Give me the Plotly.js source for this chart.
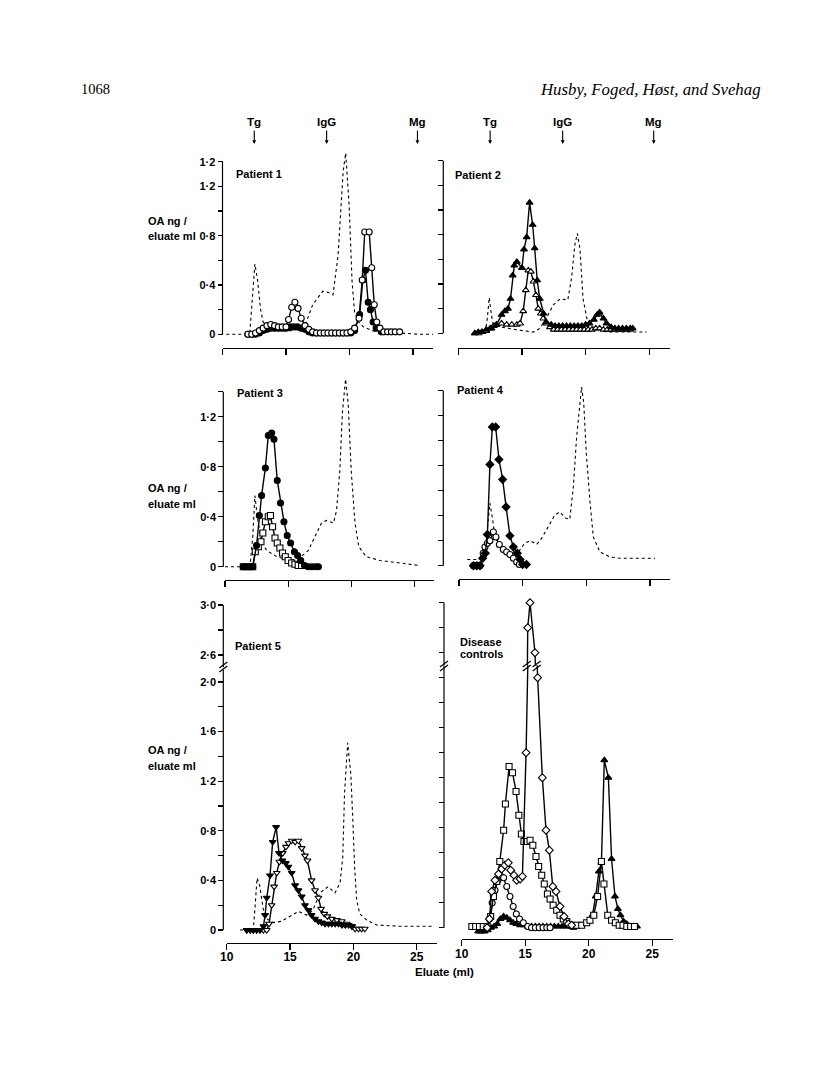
<!DOCTYPE html>
<html><head><meta charset="utf-8">
<script src="https://cdn.plot.ly/plotly-3.0.1.min.js"></script>
<style>html,body{margin:0;padding:0;background:#fff}#chart{width:816px;height:1075px}</style>
</head><body><div id="chart"></div>
<script>
// ---------------- DATA ----------------
const markerNames = ['Tg', 'IgG', 'Mg'];
const markerPos = [12.5, 18.2, 25.35];
const xTicks = [10, 15, 20, 25];
const xTickText = ['10', '15', '20', '25'];

// Patient 1
const p1DashX = [10.3, 11.0, 11.8, 12.15, 12.35, 12.55, 12.75, 13.0, 13.2, 13.7, 14.5, 15.5, 16.2, 16.6, 17.1, 17.5, 17.9, 18.3, 18.7, 19.1, 19.35, 19.5, 19.7, 19.97, 20.2, 20.4, 20.7, 21.1, 21.8, 22.65, 24.0, 25.5, 26.6];
const p1DashY = [0, 0, 0, 0.01, 0.3, 0.57, 0.45, 0.2, 0.1, 0.05, 0.03, 0.03, 0.05, 0.1, 0.24, 0.3, 0.35, 0.34, 0.32, 0.64, 1.05, 1.32, 1.47, 1.05, 0.43, 0.18, 0.1, 0.06, 0.03, 0.01, 0.01, 0, 0];
const p1OpenX = [12.0, 12.3, 12.6, 12.9, 13.2, 13.5, 13.8, 14.1, 14.4, 14.7, 15.0, 15.2, 15.45, 15.7, 15.95, 16.2, 16.5, 16.8, 17.1, 17.4, 17.7, 18.0, 18.3, 18.6, 18.9, 19.2, 19.5, 19.8, 20.1, 20.4, 20.75, 21.0, 21.2, 21.55, 21.75, 21.95, 22.15, 22.4, 22.7, 23.0, 23.3, 23.6, 23.95];
const p1OpenY = [0, 0, 0.01, 0.03, 0.05, 0.07, 0.08, 0.07, 0.06, 0.06, 0.06, 0.12, 0.22, 0.26, 0.21, 0.13, 0.07, 0.04, 0.02, 0.01, 0.01, 0.01, 0.01, 0.01, 0.01, 0.01, 0.01, 0.01, 0.02, 0.05, 0.13, 0.44, 0.83, 0.83, 0.54, 0.24, 0.1, 0.05, 0.02, 0.02, 0.02, 0.02, 0.02];
const p1FillX = [12.0, 12.3, 12.6, 12.9, 13.2, 13.5, 13.8, 14.1, 14.4, 14.7, 15.0, 15.3, 15.6, 15.9, 16.2, 16.5, 16.8, 17.1, 17.4, 17.7, 18.0, 18.3, 18.6, 18.9, 19.2, 19.5, 19.8, 20.1, 20.4, 20.8, 21.05, 21.26, 21.47, 21.65, 21.86, 22.1, 22.5];
const p1FillY = [0, 0, 0, 0.01, 0.03, 0.04, 0.05, 0.05, 0.05, 0.05, 0.05, 0.06, 0.06, 0.06, 0.05, 0.04, 0.02, 0.01, 0.01, 0.01, 0.01, 0.01, 0.01, 0.01, 0.01, 0.01, 0.01, 0.01, 0.03, 0.16, 0.44, 0.52, 0.26, 0.2, 0.1, 0.05, 0.02];

// Patient 2
const p2DashX = [11.2, 11.8, 12.1, 12.28, 12.43, 12.6, 12.75, 13.0, 13.4, 14.5, 15.9, 16.4, 16.9, 17.46, 18.0, 18.6, 18.9, 19.16, 19.35, 19.55, 19.8, 20.1, 20.6, 21.65, 23.0, 24.8];
const p2DashY = [0, 0, 0, 0.12, 0.29, 0.15, 0.07, 0.06, 0.05, 0.03, 0.01, 0.04, 0.12, 0.23, 0.28, 0.27, 0.45, 0.72, 0.81, 0.69, 0.28, 0.12, 0.05, 0.01, 0.01, 0.01];
const p2FillX = [11.3, 11.57, 11.83, 12.2, 12.6, 13.0, 13.4, 13.66, 13.9, 14.1, 14.27, 14.4, 14.6, 15.0, 15.16, 15.37, 15.6, 15.84, 16.0, 16.2, 16.4, 16.7, 16.9, 17.3, 17.6, 17.9, 18.2, 18.5, 18.8, 19.1, 19.4, 19.7, 20.0, 20.3, 20.65, 20.9, 21.1, 21.4, 21.65, 22.0, 22.3, 22.6, 22.9, 23.2, 23.5, 23.7];
const p2FillY = [0, 0.01, 0.01, 0.03, 0.04, 0.07, 0.15, 0.18, 0.2, 0.28, 0.47, 0.55, 0.58, 0.53, 0.68, 0.78, 1.06, 0.88, 0.69, 0.43, 0.28, 0.16, 0.09, 0.07, 0.06, 0.06, 0.06, 0.06, 0.06, 0.06, 0.06, 0.06, 0.07, 0.08, 0.11, 0.15, 0.17, 0.12, 0.08, 0.05, 0.04, 0.04, 0.04, 0.04, 0.04, 0.04];
const p2OpenX = [11.3, 11.6, 11.9, 12.2, 12.5, 12.8, 13.0, 13.4, 13.8, 14.2, 14.6, 14.85, 15.1, 15.3, 15.5, 15.7, 15.9, 16.1, 16.28, 16.47, 16.68, 16.94, 17.2, 17.5, 17.8, 18.1, 18.4, 18.7, 19.0, 19.3, 19.6, 19.9, 20.2, 20.5, 20.8, 21.1, 21.4, 21.7, 22.0, 22.3, 22.6, 22.9, 23.2, 23.5];
const p2OpenY = [0, 0, 0.01, 0.02, 0.04, 0.06, 0.07, 0.08, 0.07, 0.07, 0.07, 0.08, 0.18, 0.35, 0.51, 0.5, 0.42, 0.31, 0.2, 0.16, 0.12, 0.08, 0.05, 0.03, 0.03, 0.03, 0.03, 0.03, 0.03, 0.03, 0.03, 0.03, 0.03, 0.03, 0.04, 0.04, 0.03, 0.03, 0.03, 0.03, 0.03, 0.03, 0.03, 0.03];

// Patient 3
const p3DashX = [10.0, 11.0, 11.98, 12.2, 12.37, 12.56, 12.9, 13.3, 14.1, 15.15, 15.9, 16.6, 17.1, 17.65, 18.05, 18.6, 18.84, 19.1, 19.3, 19.55, 19.76, 20.0, 20.3, 20.6, 21.2, 22.27, 23.85, 25.4];
const p3DashY = [0, 0, 0, 0.24, 0.57, 0.4, 0.2, 0.13, 0.08, 0.05, 0.07, 0.13, 0.24, 0.35, 0.37, 0.35, 0.45, 0.77, 1.23, 1.5, 1.31, 0.77, 0.35, 0.16, 0.08, 0.05, 0.03, 0.01];
const p3FillX = [11.45, 11.85, 12.2, 12.5, 12.72, 12.9, 13.2, 13.43, 13.7, 13.88, 14.14, 14.4, 14.67, 14.93, 15.2, 15.5, 15.75, 16.0, 16.3, 16.6, 16.9, 17.2, 17.4];
const p3FillY = [0, 0, 0, 0.17, 0.41, 0.57, 0.79, 1.05, 1.07, 1.02, 0.69, 0.51, 0.36, 0.25, 0.19, 0.12, 0.09, 0.05, 0.01, 0, 0, 0, 0];
const p3OpenX = [11.45, 11.85, 12.2, 12.4, 12.64, 12.85, 13.0, 13.2, 13.43, 13.6, 13.77, 13.96, 14.14, 14.35, 14.56, 14.78, 15.0, 15.28, 15.54, 15.8, 16.07];
const p3OpenY = [0, 0, 0, 0.12, 0.16, 0.2, 0.27, 0.36, 0.4, 0.41, 0.32, 0.23, 0.19, 0.15, 0.11, 0.08, 0.05, 0.03, 0.02, 0.01, 0.01];

// Patient 4
const p4DashX = [10.65, 11.5, 11.9, 12.17, 12.43, 12.64, 12.83, 13.2, 14.0, 14.66, 15.18, 15.6, 16.1, 16.5, 17.0, 17.5, 17.9, 18.4, 18.7, 18.98, 19.24, 19.5, 19.63, 19.8, 20.0, 20.3, 20.55, 21.07, 21.86, 22.64, 24.2, 25.4];
const p4DashY = [0.05, 0.05, 0.05, 0.23, 0.5, 0.37, 0.23, 0.15, 0.11, 0.11, 0.18, 0.2, 0.17, 0.22, 0.31, 0.4, 0.43, 0.38, 0.37, 0.63, 1.03, 1.31, 1.43, 1.3, 0.9, 0.5, 0.23, 0.11, 0.07, 0.06, 0.06, 0.06];
const p4FillX = [11.13, 11.4, 11.65, 11.86, 12.07, 12.23, 12.43, 12.62, 12.88, 13.14, 13.43, 13.7, 14.0, 14.27, 14.58, 14.8, 15.0, 15.3];
const p4FillY = [0, 0, 0, 0.06, 0.1, 0.25, 0.81, 1.11, 1.11, 0.85, 0.69, 0.47, 0.24, 0.15, 0.1, 0.05, 0.01, 0.01];
const p4OpenX = [11.13, 11.4, 11.65, 11.9, 12.04, 12.23, 12.43, 12.7, 12.9, 13.17, 13.48, 13.74, 14.0, 14.27, 14.53, 14.74];
const p4OpenY = [0, 0, 0, 0.1, 0.15, 0.18, 0.2, 0.27, 0.23, 0.17, 0.13, 0.11, 0.09, 0.06, 0.03, 0.01];

// Patient 5
const p5DashX = [11.05, 12.1, 12.24, 12.4, 12.6, 12.9, 13.16, 13.7, 14.3, 15.0, 15.66, 16.3, 16.8, 17.37, 18.0, 18.55, 18.95, 19.16, 19.3, 19.55, 19.8, 19.95, 20.1, 20.26, 20.5, 21.05, 21.84, 23.7, 26.3];
const p5DashY = [0, 0, 0.19, 0.42, 0.36, 0.16, 0.09, 0.06, 0.07, 0.11, 0.15, 0.12, 0.16, 0.3, 0.35, 0.3, 0.38, 0.59, 1.1, 1.51, 1.25, 0.9, 0.5, 0.24, 0.13, 0.08, 0.04, 0.03, 0.03];
const p5FillX = [11.58, 11.85, 12.1, 12.37, 12.63, 12.9, 13.03, 13.16, 13.42, 13.63, 13.9, 14.13, 14.4, 14.66, 14.87, 15.13, 15.4, 15.66, 15.92, 16.18, 16.45, 16.7, 16.97, 17.24, 17.5, 17.76, 18.03, 18.3, 18.56, 18.83, 19.1, 19.36, 19.63, 19.9];
const p5FillY = [0, 0, 0, 0, 0, 0.03, 0.12, 0.26, 0.44, 0.71, 0.83, 0.62, 0.56, 0.54, 0.51, 0.46, 0.36, 0.32, 0.27, 0.2, 0.16, 0.12, 0.09, 0.07, 0.06, 0.05, 0.05, 0.05, 0.05, 0.05, 0.04, 0.04, 0.04, 0.03];
const p5OpenX = [11.58, 11.85, 12.1, 12.37, 12.63, 12.9, 13.16, 13.34, 13.55, 13.74, 13.95, 14.16, 14.42, 14.68, 14.87, 15.13, 15.4, 15.66, 15.92, 16.18, 16.37, 16.7, 16.97, 17.24, 17.45, 17.7, 17.95, 18.3, 18.7, 19.08, 19.47, 19.87, 20.13, 20.4, 20.65, 20.9];
const p5OpenY = [0, 0, 0, 0, 0, 0, 0, 0.05, 0.2, 0.35, 0.46, 0.55, 0.62, 0.67, 0.7, 0.72, 0.71, 0.72, 0.66, 0.6, 0.56, 0.4, 0.32, 0.26, 0.17, 0.13, 0.11, 0.09, 0.08, 0.07, 0.05, 0.03, 0.01, 0.01, 0.01, 0.01];

// Disease controls
const dcDiaX = [12.0, 12.18, 12.36, 12.62, 12.9, 13.15, 13.4, 13.67, 13.86, 14.12, 14.33, 14.6, 14.78, 15.07, 15.2, 15.38, 15.77, 15.98, 16.35, 16.64, 16.9, 17.17, 17.43, 17.74, 18.06, 18.4, 18.66];
const dcDiaY = [0, 0.07, 0.29, 0.38, 0.43, 0.47, 0.5, 0.52, 0.46, 0.42, 0.38, 0.39, 0.41, 1.4, 2.8, 3.0, 2.6, 2.0, 1.2, 0.78, 0.62, 0.33, 0.29, 0.17, 0.09, 0.03, 0.02];
const dcSqX = [10.8, 11.1, 11.4, 11.7, 12.0, 12.28, 12.5, 12.76, 13.0, 13.3, 13.44, 13.73, 14.0, 14.28, 14.5, 14.7, 14.9, 15.17, 15.38, 15.6, 15.85, 16.06, 16.3, 16.5, 16.75, 16.96, 17.2, 17.48, 17.74, 18.0, 18.27, 18.66, 19.05, 19.45, 19.84, 20.1, 20.4, 20.7, 21.0, 21.2, 21.5, 21.8, 22.1, 22.4, 22.7, 23.0, 23.3, 23.6];
const dcSqY = [0.01, 0.01, 0.01, 0.01, 0.01, 0.09, 0.25, 0.37, 0.53, 0.78, 0.99, 1.29, 1.24, 1.09, 0.9, 0.75, 0.69, 0.69, 0.7, 0.66, 0.57, 0.49, 0.42, 0.35, 0.27, 0.23, 0.18, 0.14, 0.1, 0.07, 0.05, 0.02, 0.02, 0.02, 0.04, 0.06, 0.1, 0.25, 0.53, 0.35, 0.1, 0.06, 0.04, 0.02, 0.02, 0.01, 0.01, 0.01];
const dcCirX = [12.18, 12.4, 12.62, 12.85, 13.1, 13.3, 13.55, 13.8, 14.05, 14.3, 14.55, 14.85, 15.2, 15.5, 15.8, 16.1, 16.4, 16.7, 16.96];
const dcCirY = [0.07, 0.2, 0.3, 0.38, 0.41, 0.4, 0.33, 0.25, 0.17, 0.11, 0.07, 0.04, 0.01, 0, 0, 0, 0, 0, 0];
const dcTriX = [11.3, 11.55, 11.8, 12.05, 12.3, 12.55, 12.8, 13.05, 13.3, 13.55, 13.8, 14.05, 14.3, 14.6, 14.9, 15.2, 15.5, 15.8, 16.1, 16.4, 16.7, 17.0, 17.3, 17.6, 17.9, 18.2, 18.5, 18.8, 19.1, 19.4, 19.7, 20.0, 20.3, 20.55, 20.8, 21.0, 21.23, 21.55, 21.8, 22.07, 22.3, 22.5, 22.75, 23.0, 23.25, 23.5, 23.8];
const dcTriY = [-0.03, -0.03, -0.03, -0.02, 0, 0.01, 0.03, 0.07, 0.09, 0.08, 0.06, 0.04, 0.03, 0.02, 0.02, 0.01, 0.01, 0.01, 0.01, 0.01, 0.01, 0.01, 0.01, 0.01, 0.01, 0.01, 0.01, 0, 0.01, 0.02, 0.03, 0.05, 0.1, 0.25, 0.45, 0.52, 1.34, 1.2, 0.55, 0.25, 0.15, 0.1, 0.05, 0.03, 0.01, 0.01, 0.01];

// ---------------- LAYOUT GEOMETRY ----------------
const W = 816, H = 1075;
const px = v => v / W, py = v => 1 - v / H;
const XMAX = 26.6;
const panels = {
  p1: {x10: 222.5, pxml: 12.7, axisPx: 222.5, zeroPx: 334.3, pxu: 123.3, xAxisPx: 348},
  p2: {x10: 458.3, pxml: 12.73, axisPx: 443.3, zeroPx: 333.3, pxu: 123.3, xAxisPx: 348},
  p3: {x10: 225, pxml: 12.62, axisPx: 223.3, zeroPx: 566.7, pxu: 125, xAxisPx: 580},
  p4: {x10: 459, pxml: 12.73, axisPx: 443.3, zeroPx: 565.7, pxu: 125, xAxisPx: 578.5},
  p5: {x10: 226.7, pxml: 12.67, axisPx: 223.3, zeroPx: 930, pxu: 124, xAxisPx: 942.5, threePx: 605},
  p6: {x10: 461.7, pxml: 12.7, axisPx: 444, zeroPx: 927.7, pxu: 125, xAxisPx: 939, threePx: 602.7}
};

const font = {family: 'Liberation Sans, Arial, sans-serif', size: 11, color: '#000', weight: 'bold'};
const serif = {family: 'Liberation Serif, Times New Roman, serif', color: '#000', weight: 'normal'};

function xaxisFor(p, anchor, labels) {
  return {
    domain: [px(p.x10), px(p.x10 + (XMAX - 10) * p.pxml)],
    range: [10, XMAX], anchor: anchor,
    showline: true, linecolor: '#000', linewidth: 1.2,
    ticks: 'outside', ticklen: 6, tickwidth: 1.2, tickcolor: '#000',
    tickmode: 'array', tickvals: xTicks, ticktext: xTickText,
    showticklabels: labels, tickfont: Object.assign({}, font, {size: 12}),
    ticklabelstandoff: -3,
    showgrid: false, zeroline: false, fixedrange: true
  };
}
function yaxisFor(p, lo, hi, domBot, domTop, vals, texts, showLabels) {
  return {
    domain: [py(domBot), py(domTop)], range: [lo, hi],
    anchor: 'free', position: px(p.axisPx),
    showline: false, ticks: 'outside', ticklen: 5, tickwidth: 1.2, tickcolor: '#000',
    tickmode: 'array', tickvals: vals, ticktext: texts,
    showticklabels: showLabels, tickfont: font,
    showgrid: false, zeroline: false, fixedrange: true
  };
}
const v14 = [0, 0.2, 0.4, 0.6, 0.8, 1.0, 1.2, 1.4];
const v20 = [0, 0.2, 0.4, 0.6, 0.8, 1.0, 1.2, 1.4, 1.6, 1.8, 2.0];
const vUp = [2.6, 2.8, 3.0];

function topRange(p) { return [-(p.xAxisPx - p.zeroPx) / p.pxu, 1.55]; }

const layout = {
  width: W, height: H, margin: {l: 0, r: 0, t: 0, b: 0},
  paper_bgcolor: '#fff', plot_bgcolor: 'rgba(0,0,0,0)', showlegend: false,
  font: font,
  xaxis: xaxisFor(panels.p1, 'y', false),
  xaxis2: xaxisFor(panels.p2, 'y2', false),
  xaxis3: xaxisFor(panels.p3, 'y3', false),
  xaxis4: xaxisFor(panels.p4, 'y4', false),
  xaxis5: xaxisFor(panels.p5, 'y5', true),
  xaxis6: xaxisFor(panels.p6, 'y6', true),
  shapes: [], annotations: []
};
[['p1', 'yaxis', ['0', '', '0·4', '', '0·8', '', '1·2', '1·2'], true],
 ['p2', 'yaxis2', null, false],
 ['p3', 'yaxis3', ['0', '', '0·4', '', '0·8', '', '1·2', ''], true],
 ['p4', 'yaxis4', null, false]].forEach(([k, name, txt, show]) => {
  const p = panels[k]; const r = topRange(p);
  layout[name] = yaxisFor(p, r[0], r[1], p.xAxisPx, p.zeroPx - r[1] * p.pxu, v14, txt || v14.map(() => ''), show);
});
// broken axes for bottom row
[['p5', 'yaxis5', 'yaxis7', true], ['p6', 'yaxis6', 'yaxis8', false]].forEach(([k, lowName, upName, show]) => {
  const p = panels[k];
  const lo = -(p.xAxisPx - p.zeroPx) / p.pxu;
  layout[lowName] = yaxisFor(p, lo, 2.1, p.xAxisPx, p.zeroPx - 2.1 * p.pxu, v20,
    show ? ['0', '', '0·4', '', '0·8', '', '1·2', '', '1·6', '', '2·0'] : v20.map(() => ''), show);
  layout[upName] = yaxisFor(p, 2.5, 3.1, p.threePx + 0.5 * 125, p.threePx - 0.1 * 125, vUp,
    show ? ['2·6', '', '3·0'] : vUp.map(() => ''), show);
});

// y-axis lines (from 0 to top tick) as shapes in data coordinates
function axisLine(p, yref, y0, y1) {
  layout.shapes.push({type: 'line', xref: 'paper', x0: px(p.axisPx), x1: px(p.axisPx), yref: yref, y0: y0, y1: y1,
    line: {color: '#000', width: 1.2}});
}
axisLine(panels.p1, 'y', 0, 1.4);
axisLine(panels.p2, 'y2', 0, 1.4);
axisLine(panels.p3, 'y3', 0, 1.4);
axisLine(panels.p4, 'y4', 0, 1.4);
axisLine(panels.p5, 'y5', 0, 2.1);
axisLine(panels.p5, 'y7', 2.5, 3.0);
axisLine(panels.p6, 'y6', 0, 2.1);
axisLine(panels.p6, 'y8', 2.5, 3.0);

// break marks
function breakMark(xref, xanchor, yPx) {
  [0, 4].forEach(off => {
    layout.shapes.push({type: 'line', xref: xref, xsizemode: 'pixel', xanchor: xanchor, x0: -4, x1: 4,
      yref: 'paper', ysizemode: 'pixel', yanchor: py(yPx + off - 2), y0: -3, y1: 3,
      line: {color: '#000', width: 1.2}});
  });
}
breakMark('paper', px(panels.p5.axisPx), 667);
breakMark('paper', px(panels.p6.axisPx), 666);
breakMark('x6', 15.12, 666);
breakMark('x6', 15.9, 666);

// ---------------- TRACES ----------------
const traces = [];
function dash(x, y, xa, ya) {
  traces.push({x: x, y: y, xaxis: xa, yaxis: ya, mode: 'lines', type: 'scatter',
    line: {color: '#000', width: 1.1, dash: '3px,3px'}, hoverinfo: 'skip'});
}
function series(x, y, xa, ya, symbol, filled) {
  traces.push({x: x, y: y, xaxis: xa, yaxis: ya, mode: 'lines+markers', type: 'scatter',
    line: {color: '#000', width: 1.4},
    marker: {symbol: symbol, size: 6, color: filled ? '#000' : '#fff', line: {color: '#000', width: 1.1}},
    hoverinfo: 'skip'});
}
dash(p1DashX, p1DashY, 'x', 'y');
series(p1FillX, p1FillY, 'x', 'y', 'circle', true);
series(p1OpenX, p1OpenY, 'x', 'y', 'circle', false);

dash(p2DashX, p2DashY, 'x2', 'y2');
series(p2OpenX, p2OpenY, 'x2', 'y2', 'triangle-up', false);
series(p2FillX, p2FillY, 'x2', 'y2', 'triangle-up', true);

dash(p3DashX, p3DashY, 'x3', 'y3');
series(p3OpenX, p3OpenY, 'x3', 'y3', 'square', false);
series(p3FillX, p3FillY, 'x3', 'y3', 'circle', true);

dash(p4DashX, p4DashY, 'x4', 'y4');
series(p4OpenX, p4OpenY, 'x4', 'y4', 'circle', false);
series(p4FillX, p4FillY, 'x4', 'y4', 'diamond', true);

dash(p5DashX, p5DashY, 'x5', 'y5');
series(p5OpenX, p5OpenY, 'x5', 'y5', 'triangle-down', false);
series(p5FillX, p5FillY, 'x5', 'y5', 'triangle-down', true);

series(dcTriX, dcTriY, 'x6', 'y6', 'triangle-up', true);
series(dcCirX, dcCirY, 'x6', 'y6', 'circle', false);
series(dcSqX, dcSqY, 'x6', 'y6', 'square', false);
series(dcDiaX, dcDiaY, 'x6', 'y6', 'diamond', false);
series(dcDiaX, dcDiaY, 'x6', 'y8', 'diamond', false);

// ---------------- TEXT ----------------
function ann(text, xPx, yPx, opts) {
  layout.annotations.push(Object.assign({text: text, xref: 'paper', yref: 'paper', x: px(xPx), y: py(yPx),
    xanchor: 'left', yanchor: 'middle', showarrow: false, font: font}, opts || {}));
}
ann('1068', 79, 89, {font: Object.assign({}, serif, {size: 14.5})});
ann('<i>Husby, Foged, Høst, and Svehag</i>', 763, 89, {xanchor: 'right',
  font: Object.assign({}, serif, {size: 16.8})});

// elution markers with arrows
['x', 'x2'].forEach(xr => {
  markerNames.forEach((nm, i) => {
    layout.annotations.push({text: nm, xref: xr, yref: 'paper', x: markerPos[i], y: py(144),
      showarrow: true, ax: 0, ay: -22, arrowhead: 2, arrowsize: 0.7, arrowwidth: 1.1, arrowcolor: '#000',
      standoff: 0, startstandoff: 1, font: Object.assign({}, font, {size: 11.5})});
  });
});

ann('Patient 1', 234, 174);
ann('Patient 2', 453, 175);
ann('Patient 3', 235, 393);
ann('Patient 4', 455, 390);
ann('Patient 5', 233, 646);
ann('Disease', 458, 642);
ann('controls', 458, 654);
[[221, 236], [488, 504], [750, 766]].forEach(([a, b]) => {
  ann('OA ng /', 146, a);
  ann('eluate ml', 146, b);
});
ann('Eluate (ml)', 445, 972, {xanchor: 'center', font: Object.assign({}, font, {size: 11.5})});

Plotly.newPlot('chart', traces, layout, {staticPlot: true, displayModeBar: false});
</script>
</body></html>
